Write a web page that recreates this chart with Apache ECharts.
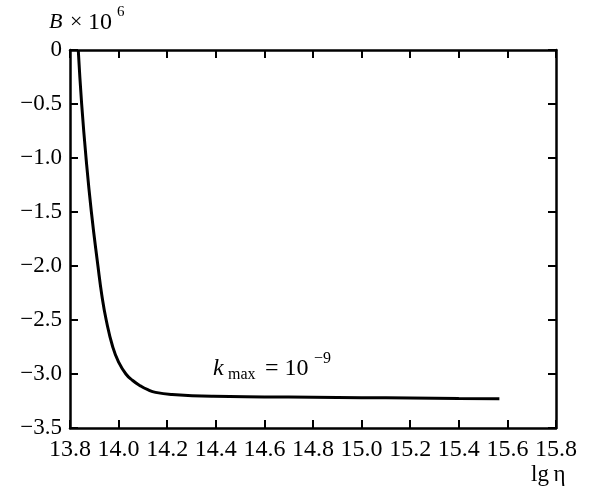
<!DOCTYPE html>
<html>
<head>
<meta charset="utf-8">
<script src="https://cdn.jsdelivr.net/npm/echarts@6/dist/echarts.min.js"></script>
<style>
    html, body {margin: 0; padding: 0; background: #fff;}
    #main {width: 593px; height: 491px;}
</style>
</head>
<body>
<div id="main"></div>
<script>
// values
let lgEta = [13.834, 13.848, 13.866, 13.888, 13.915, 13.931, 13.949, 13.976, 14.000, 14.030, 14.058, 14.090, 14.120, 14.152, 14.220, 14.390, 14.600, 14.800, 15.000, 15.200, 15.400, 15.567];
let bVals = [0, -0.50, -1.00, -1.50, -2.00, -2.27, -2.50, -2.75, -2.89, -3.00, -3.06, -3.11, -3.145, -3.17, -3.19, -3.207, -3.212, -3.215, -3.219, -3.222, -3.226, -3.229];
let xTicks = [13.8, 15.8, 0.2];   // min, max, step
let yTicks = [-3.5, 0, 0.5];

let serif = "'Liberation Serif', 'Times New Roman', 'DejaVu Serif', serif";
let minus = (v) => v < 0 ? '\u2212' + Math.abs(v).toFixed(1) : (v === 0 ? '0' : v.toFixed(1));

let myChart = echarts.init(document.getElementById('main'), null, {renderer: 'canvas'});

let axisX = (show) => ({
    type: 'value',
    min: xTicks[0],
    max: xTicks[1],
    interval: xTicks[2],
    position: show ? 'bottom' : 'top',
    axisLine: {show: true, onZero: false, lineStyle: {color: '#000', width: 2.5}},
    axisTick: {show: true, inside: true, length: 8, lineStyle: {color: '#000', width: 2}},
    axisLabel: {show: show, color: '#000', fontFamily: serif, fontSize: 24, margin: 10,
        showMinLabel: true, showMaxLabel: true, formatter: (v) => v.toFixed(1)},
    splitLine: {show: false}
});

let axisY = (show) => ({
    type: 'value',
    min: yTicks[0],
    max: yTicks[1],
    interval: yTicks[2],
    position: show ? 'left' : 'right',
    axisLine: {show: true, onZero: false, lineStyle: {color: '#000', width: 2.5}},
    axisTick: {show: true, inside: true, length: 8, lineStyle: {color: '#000', width: 2}},
    axisLabel: {show: show, color: '#000', fontFamily: serif, fontSize: 23, margin: 8,
        showMinLabel: true, showMaxLabel: true, formatter: minus},
    splitLine: {show: false}
});

let txt = (text, x, y, size, italic) => ({
    type: 'text',
    x: x,
    y: y,
    silent: true,
    style: {
        text: text,
        fill: '#000',
        font: (italic ? 'italic ' : '') + size + 'px ' + serif
    }
});

myChart.setOption({
    animation: false,
    grid: {left: 70, right: 37, top: 50, bottom: 63},
    xAxis: [axisX(true), axisX(false)],
    yAxis: [axisY(true), axisY(false)],
    series: [{
        type: 'line',
        data: lgEta.map((x, i) => [x, bVals[i]]),
        showSymbol: false,
        smooth: 0.5,
        clip: true,
        lineStyle: {color: '#000', width: 3}
    }],
    graphic: [
        // axis title  B x 10^6
        txt('B', 49, 11, 22, true),
        txt('\u00d7', 70, 11, 22, false),
        txt('10', 88, 11, 24, false),
        txt('6', 117, 5, 15, false),
        // curve label  k_max = 10^-9
        txt('k', 213, 357, 24, true),
        txt('max', 228, 367, 16, false),
        txt('= 10', 265, 357, 24, false),
        txt('\u22129', 314, 351, 16, false),
        // x axis name
        txt('lg\u2009\u03b7', 531, 463, 23, false)
    ]
});
</script>
</body>
</html>
